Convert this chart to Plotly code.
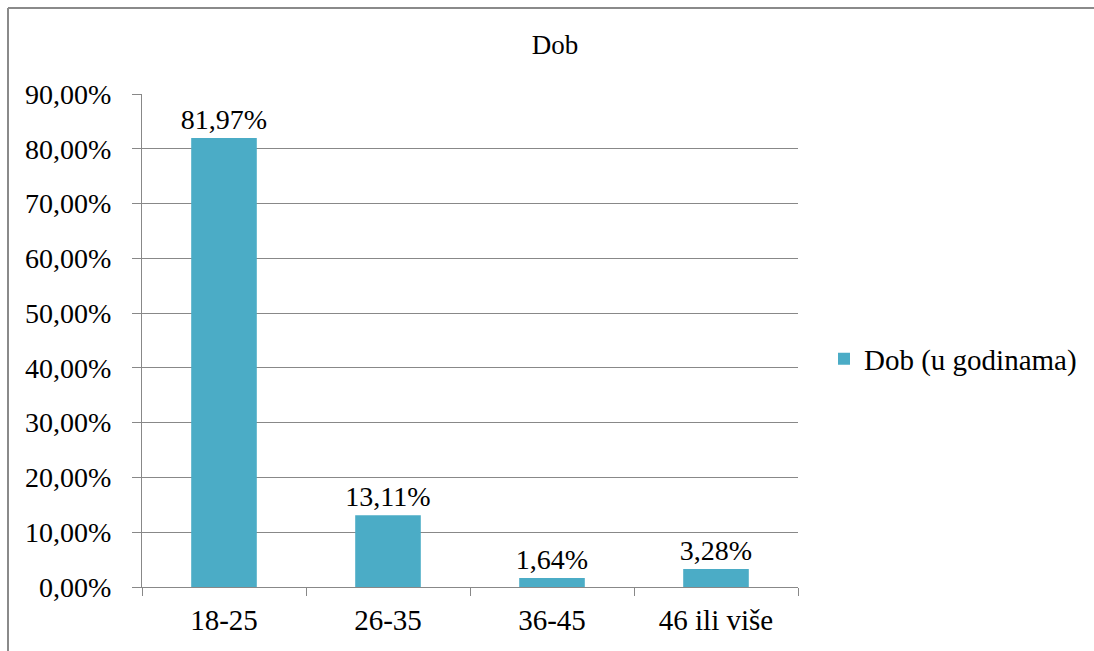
import plotly.graph_objects as go

categories = ["18-25", "26-35", "36-45", "46 ili više"]
values = [0.8197, 0.1311, 0.0164, 0.0328]
labels = ["81,97%", "13,11%", "1,64%", "3,28%"]
series_name = "Dob (u godinama)"
title_text = "Dob"

W, H = 1094, 651
L, R, T, B = 142, 798, 94, 587
pw, ph = R - L, B - T

FONT = "Liberation Serif"
GRID = "#888888"
BAR = "#4BACC6"

fig = go.Figure()
fig.add_trace(go.Bar(
    x=categories, y=values, name=series_name,
    marker=dict(color=BAR, line=dict(width=0)),
    text=labels, textposition="outside", cliponaxis=False,
    constraintext="none",
    textfont=dict(family=FONT, size=28, color="#000000"),
    showlegend=True,
))

fig.update_layout(
    width=W, height=H,
    margin=dict(l=L, r=W - R, t=T, b=H - B, pad=0),
    paper_bgcolor="white", plot_bgcolor="white",
    font=dict(family=FONT, size=28, color="#000000"),
    separators=", ",
    bargap=0.6,
    title=dict(text=title_text, x=555 / W, xref="container", xanchor="center",
               y=1 - 45 / H, yref="container", yanchor="middle",
               font=dict(family=FONT, size=27, color="#000000")),
    showlegend=True,
    legend=dict(x=(824 - L) / pw, xanchor="left", y=(B - 359) / ph, yanchor="middle",
                font=dict(family=FONT, size=29, color="#000000"),
                bgcolor="rgba(0,0,0,0)", itemsizing="constant"),
    xaxis=dict(showline=True, linecolor=GRID, linewidth=1, showgrid=False,
               ticks="outside", ticklen=8, tickcolor=GRID, tickwidth=1,
               tickson="boundaries", zeroline=False, fixedrange=True,
               tickfont=dict(family=FONT, size=29), ticklabelstandoff=7),
    yaxis=dict(range=[0, 0.9], dtick=0.1, tick0=0, tickformat=".2%",
               showline=True, linecolor=GRID, linewidth=1,
               showgrid=True, gridcolor=GRID, gridwidth=1,
               ticks="outside", ticklen=9, tickcolor=GRID, tickwidth=1,
               zeroline=False, fixedrange=True,
               tickfont=dict(family=FONT, size=28),
               ticklabelstandoff=15),
)

# outer chart frame: only top and left edges are visible in the frame
bx0 = (8 - L) / pw
by1 = (B - 8) / ph
fig.add_shape(type="line", xref="paper", yref="paper",
              x0=bx0, x1=(W + 200 - L) / pw, y0=by1, y1=by1,
              line=dict(color="#8A8A8A", width=2), layer="below")
fig.add_shape(type="line", xref="paper", yref="paper",
              x0=bx0, x1=bx0, y0=by1, y1=(B - (H + 200)) / ph,
              line=dict(color="#8A8A8A", width=2), layer="below")

fig.write_html("out.html", config={"displayModeBar": False},
               post_script="document.body.style.margin='0';document.body.style.overflow='hidden';")
